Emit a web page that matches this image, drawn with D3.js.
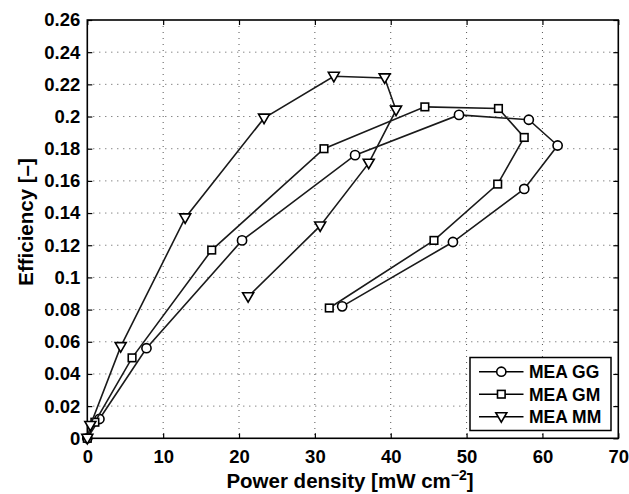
<!DOCTYPE html>
<html><head><meta charset="utf-8">
<script src="https://cdn.jsdelivr.net/npm/d3@7"></script>
<style>body{margin:0;background:#fff;} text{font-family:"Liberation Sans",Arial,sans-serif;font-weight:bold;}</style>
</head><body><svg id="c" width="629" height="494"></svg>
<script>
const seriesNames = ["MEA GG", "MEA GM", "MEA MM"];
const ggX = [0, 1.6, 7.8, 20.4, 35.3, 49.0, 58.2, 62.0, 57.6, 48.2, 33.6];
const ggY = [0, 0.012, 0.056, 0.123, 0.176, 0.201, 0.198, 0.182, 0.155, 0.122, 0.082];
const gmX = [0, 1.0, 5.9, 16.4, 31.2, 44.5, 54.2, 57.6, 54.1, 45.7, 31.9];
const gmY = [0, 0.010, 0.050, 0.117, 0.180, 0.206, 0.205, 0.187, 0.158, 0.123, 0.081];
const mmX = [0, 0.4, 4.4, 12.9, 23.3, 32.5, 39.2, 40.7, 37.1, 30.7, 21.2];
const mmY = [0, 0.008, 0.057, 0.137, 0.199, 0.225, 0.224, 0.204, 0.171, 0.132, 0.088];
const xTicks = [0, 10, 20, 30, 40, 50, 60, 70];
const yTicks = [0, 0.02, 0.04, 0.06, 0.08, 0.1, 0.12, 0.14, 0.16, 0.18, 0.2, 0.22, 0.24, 0.26];
const yTickLabels = ["0","0.02","0.04","0.06","0.08","0.1","0.12","0.14","0.16","0.18","0.2","0.22","0.24","0.26"];

const svg = d3.select("#c");
const L = 87.3, R = 618.3, T = 20, B = 438.3;
const x = d3.scaleLinear().domain([0, 70]).range([L, R]);
const y = d3.scaleLinear().domain([0, 0.26]).range([B, T]);

// grid
const g = svg.append("g");
g.selectAll(".gx").data(xTicks.slice(1, -1)).join("line")
  .attr("x1", d => x(d)).attr("x2", d => x(d)).attr("y1", T).attr("y2", B)
  .attr("stroke", "#555").attr("stroke-width", 1).attr("stroke-dasharray", "1,5");
g.selectAll(".gy").data(yTicks.slice(1, -1)).join("line")
  .attr("y1", d => y(d)).attr("y2", d => y(d)).attr("x1", L).attr("x2", R)
  .attr("stroke", "#555").attr("stroke-width", 1).attr("stroke-dasharray", "1,5");

// axes
const xAxisB = d3.axisBottom(x).tickValues(xTicks).tickSize(-5).tickPadding(12).tickFormat(d3.format("d"));
const xAxisT = d3.axisTop(x).tickValues(xTicks).tickSize(-5).tickFormat("");
const yAxisL = d3.axisLeft(y).tickValues(yTicks).tickSize(-5).tickPadding(7).tickFormat((d, i) => yTickLabels[i]);
const yAxisR = d3.axisRight(y).tickValues(yTicks).tickSize(-5).tickFormat("");
function style(sel) {
  sel.select(".domain").remove();
  sel.selectAll("line").attr("stroke", "#000").attr("stroke-width", 1.2);
  sel.selectAll("text").attr("fill", "#000").style("font-size", "18.5px").style("font-weight", "bold")
    .style("font-family", "'Liberation Sans',Arial,sans-serif");
}
svg.append("g").attr("transform", `translate(0,${B})`).call(xAxisB).call(style);
svg.append("g").attr("transform", `translate(0,${T})`).call(xAxisT).call(style);
svg.append("g").attr("transform", `translate(${L},0)`).call(yAxisL).call(style);
svg.append("g").attr("transform", `translate(${R},0)`).call(yAxisR).call(style);
svg.append("rect").attr("x", L).attr("y", T).attr("width", R - L).attr("height", B - T)
  .attr("fill", "none").attr("stroke", "#000").attr("stroke-width", 1.6);

// series
const data = [
  {name: seriesNames[0], xs: ggX, ys: ggY, m: "circle"},
  {name: seriesNames[1], xs: gmX, ys: gmY, m: "square"},
  {name: seriesNames[2], xs: mmX, ys: mmY, m: "tri"}
];
const line = d3.line().x(d => x(d[0])).y(d => y(d[1]));
function marker(sel, m) {
  if (m === "circle") sel.append("circle").attr("r", 4.6);
  else if (m === "square") sel.append("rect").attr("x", -3.8).attr("y", -3.8).attr("width", 7.6).attr("height", 7.6);
  else sel.append("path").attr("d", "M-5.5,-4 L5.5,-4 L0,5.5 Z");
  sel.selectAll("*").attr("fill", "#fff").attr("stroke", "#000").attr("stroke-width", 1.6);
}
data.forEach(s => {
  const pts = s.xs.map((v, i) => [v, s.ys[i]]);
  svg.append("path").datum(pts).attr("d", line).attr("fill", "none").attr("stroke", "#1a1a1a").attr("stroke-width", 1.6);
  pts.forEach(p => {
    const mg = svg.append("g").attr("transform", `translate(${x(p[0])},${y(p[1])})`);
    marker(mg, s.m);
  });
});

// legend
const lg = svg.append("g");
lg.append("rect").attr("x", 470).attr("y", 357.5).attr("width", 141).attr("height", 73)
  .attr("fill", "#fff").attr("stroke", "#000").attr("stroke-width", 1.5);
data.forEach((s, i) => {
  const yy = 371.7 + i * 22.5;
  lg.append("line").attr("x1", 479).attr("x2", 523.5).attr("y1", yy).attr("y2", yy).attr("stroke", "#000").attr("stroke-width", 1.6);
  const mg = lg.append("g").attr("transform", `translate(501.3,${yy})`);
  marker(mg, s.m);
  lg.append("text").attr("x", 529).attr("y", yy + 6.5).attr("font-size", "17.5px").attr("fill", "#000").text(s.name);
});

// titles
const xt = svg.append("text").attr("x", 350).attr("y", 488).attr("text-anchor", "middle")
  .attr("font-size", "20.5px").attr("fill", "#000");
xt.append("tspan").text("Power density [mW cm");
xt.append("tspan").attr("dy", -8).attr("font-size", "14px").text("−2");
xt.append("tspan").attr("dy", 8).text("]");
svg.append("text").attr("transform", `translate(33,222) rotate(-90)`).attr("text-anchor", "middle")
  .attr("font-size", "20.5px").attr("fill", "#000").text("Efficiency [–]");
</script></body></html>
